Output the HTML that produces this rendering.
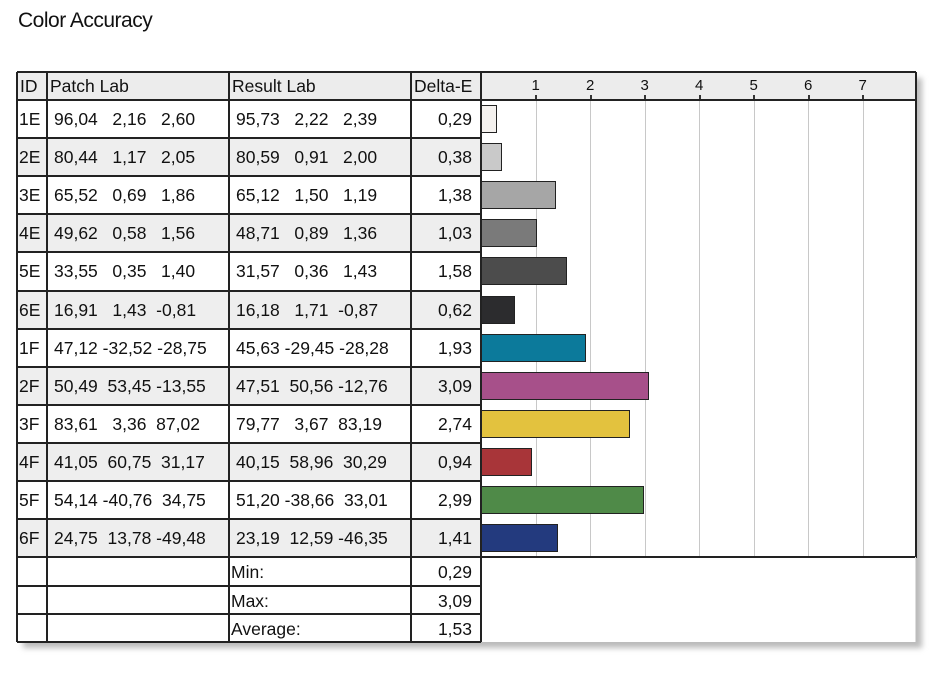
<!DOCTYPE html>
<html><head><meta charset="utf-8"><style>
body{margin:0;width:942px;height:677px;background:#fff;font-family:"Liberation Sans",Arial,sans-serif;position:relative;overflow:hidden}
.t{position:absolute;white-space:pre;font-size:17.5px;color:#111;line-height:1}
.c{position:absolute;box-sizing:border-box}
</style></head><body>
<div class="t" style="left:18px;top:10px;font-size:21px;letter-spacing:-0.5px">Color Accuracy</div>
<div id="wrap"></div>
<script>
const ids=["1E","2E","3E","4E","5E","6E","1F","2F","3F","4F","5F","6F"];
const patchL=[96.04,80.44,65.52,49.62,33.55,16.91,47.12,50.49,83.61,41.05,54.14,24.75];
const patchA=[2.16,1.17,0.69,0.58,0.35,1.43,-32.52,53.45,3.36,60.75,-40.76,13.78];
const patchB=[2.60,2.05,1.86,1.56,1.40,-0.81,-28.75,-13.55,87.02,31.17,34.75,-49.48];
const resL=[95.73,80.59,65.12,48.71,31.57,16.18,45.63,47.51,79.77,40.15,51.20,23.19];
const resA=[2.22,0.91,1.50,0.89,0.36,1.71,-29.45,50.56,3.67,58.96,-38.66,12.59];
const resB=[2.39,2.00,1.19,1.36,1.43,-0.87,-28.28,-12.76,83.19,30.29,33.01,-46.35];
const deltaE=[0.29,0.38,1.38,1.03,1.58,0.62,1.93,3.09,2.74,0.94,2.99,1.41];
const barColors=["#f4f1ee","#c9c9c9","#a6a6a6","#7a7a7a","#4c4c4c","#2c2c2e","#0c7a9b","#a7508a","#e3c23e","#a83539","#4f8a48","#233a7e"];
const ticks=[1,2,3,4,5,6,7];
const summaryLabels=["Min:","Max:","Average:"];
const summaryValues=[0.29,3.09,1.53];

const W=document.getElementById('wrap');
const X0=481,UNIT=54.5,TOP=72,HEAD=28,ROWH=38.1,SUMH=28.4,RIGHT=916;
const xs=v=>X0+v*UNIT;
const fmt=v=>v.toFixed(2).replace('.',',');
const fv=v=>(Math.abs(v)<10?' ':'')+(v<0?'-':' ')+fmt(Math.abs(v));
function box(x,y,w,h,css,name){const d=document.createElement('div');d.className='c';d.style.cssText=`left:${x}px;top:${y}px;width:${w}px;height:${h}px;`+css;


W.appendChild(d);return d;}
function txt(x,y,s,name,right){const d=document.createElement('div');d.className='t';d.textContent=s;
if(right){d.style.right=(942-x)+'px';}else d.style.left=x+'px';d.style.top=y+'px';


W.appendChild(d);return d;}
const rowsBottom=TOP+HEAD+ROWH*ids.length;
const bottom=rowsBottom+SUMH*3;
box(23,TOP+6,RIGHT-17,bottom-TOP,'background:#bbb;filter:blur(3px);','table-shadow');
box(17,TOP,RIGHT-17,bottom-TOP,'background:#fff;','table-background');
box(17,TOP,RIGHT-17,HEAD,'background:#ececec;','header-row');
ids.forEach((id,i)=>{const y=TOP+HEAD+i*ROWH;
 if(i%2==1) box(17,y,X0-17,ROWH,'background:#eeeeee;','row-stripe');
});
ticks.forEach(t=>{box(xs(t),TOP+HEAD-5,1,rowsBottom-TOP-HEAD+5,'background:#c8c8c8;','gridline');
 box(xs(t)-0.5,TOP+HEAD-5,2,5,'background:#333;','tick-mark');
 txt(xs(t)-4,TOP+6,String(t),'tick-label',false).style.fontSize='15px';});
deltaE.forEach((v,i)=>{const y=TOP+HEAD+i*ROWH+5;
 box(X0,y,xs(v)-X0,ROWH-10,`background:${barColors[i]};border:1.5px solid #222;`,'bar-'+ids[i].toLowerCase());});
for(let i=0;i<=ids.length;i++){const y=TOP+HEAD+i*ROWH;box(17,y-1,((i==ids.length||i==0)?RIGHT:X0)-17,2,'background:#222;','row-line');}
for(let i=1;i<=3;i++){box(17,rowsBottom+i*SUMH-1,X0-17,2,'background:#222;','row-line');}
[17,47,229,411,X0].forEach(x=>box(x-1,TOP,2,bottom-TOP,'background:#222;','column-line'));
box(RIGHT-1,TOP,2,rowsBottom-TOP+1,'background:#222;','column-line');
box(RIGHT-1,rowsBottom,1,bottom-rowsBottom,'background:#ddd;','column-line');
box(17,TOP-1,RIGHT-17,2,'background:#222;','top-line');
txt(20,TOP+6,'ID','header-id');txt(50,TOP+6,'Patch Lab','header-patch');txt(232,TOP+6,'Result Lab','header-result');txt(414,TOP+6,'Delta-E','header-delta');
ids.forEach((id,i)=>{const y=TOP+HEAD+i*ROWH+11;
 txt(19,y,id,'row-id');
 txt(54,y,fmt(patchL[i])+' '+fv(patchA[i])+' '+fv(patchB[i]),'patch-lab');
 txt(236,y,fmt(resL[i])+' '+fv(resA[i])+' '+fv(resB[i]),'result-lab');
 txt(472,y,fmt(deltaE[i]),'delta-e-value',true);
});
summaryLabels.forEach((l,i)=>{const y=rowsBottom+i*SUMH+7;
 txt(231,y,l,'summary-label');txt(472,y,fmt(summaryValues[i]),'summary-value',true);});
</script>
</body></html>
